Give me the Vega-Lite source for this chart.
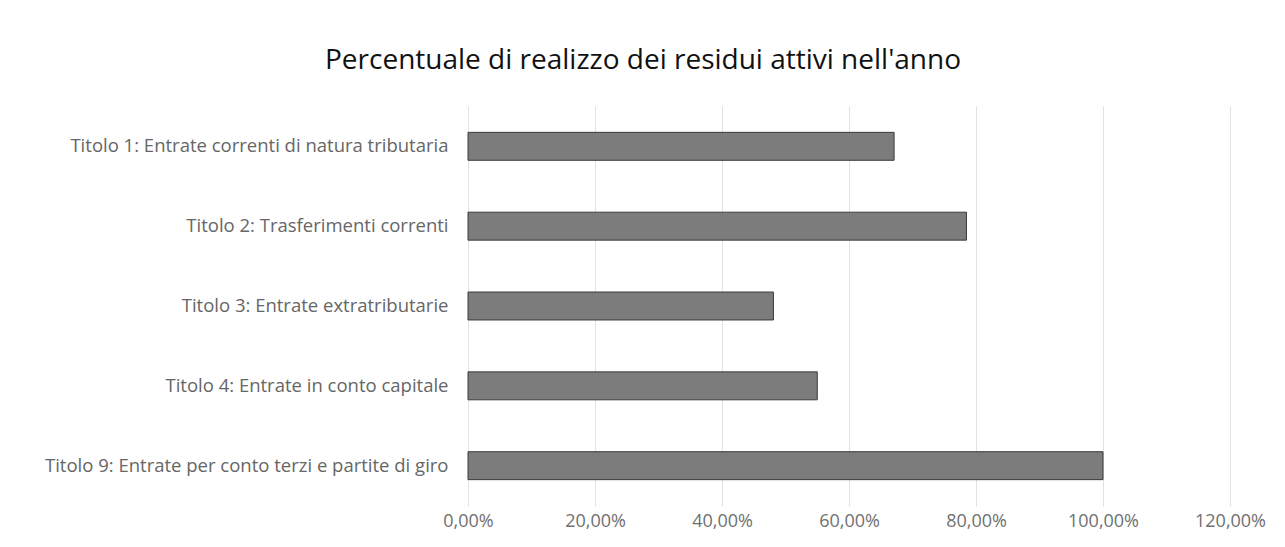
{
  "$schema": "https://vega.github.io/schema/vega-lite/v6.json",
  "width": 762,
  "height": 400,
  "autosize": {"type": "none"},
  "padding": {"left": 468, "top": 106, "right": 55, "bottom": 41},
  "background": "white",
  "config": {
    "locale": {"number": {"decimal": ",", "thousands": ".", "grouping": [3], "currency": ["€", ""]}},
    "view": {"stroke": null},
    "font": "Open Sans"
  },
  "title": {
    "text": "Percentuale di realizzo dei residui attivi nell'anno",
    "font": "Open Sans",
    "fontSize": 28,
    "fontWeight": "normal",
    "color": "#111111",
    "anchor": "middle",
    "dx": -206,
    "offset": 31
  },
  "data": {
    "values": [
      {"titolo": "Titolo 1: Entrate correnti di natura tributaria", "percentuale": 0.671},
      {"titolo": "Titolo 2: Trasferimenti correnti", "percentuale": 0.785},
      {"titolo": "Titolo 3: Entrate extratributarie", "percentuale": 0.481},
      {"titolo": "Titolo 4: Entrate in conto capitale", "percentuale": 0.55},
      {"titolo": "Titolo 9: Entrate per conto terzi e partite di giro", "percentuale": 1.0}
    ]
  },
  "mark": {"type": "bar", "color": "#7c7c7c", "stroke": "#3a3a3a", "strokeWidth": 1},
  "encoding": {
    "y": {
      "field": "titolo",
      "type": "nominal",
      "sort": null,
      "title": null,
      "scale": {"paddingInner": 0.65, "paddingOuter": 0.33},
      "axis": {"domain": false, "ticks": false, "labelFontSize": 18.5, "labelColor": "#666666", "labelPadding": 20, "labelLimit": 480, "labelFont": "Open Sans"}
    },
    "x": {
      "field": "percentuale",
      "type": "quantitative",
      "title": null,
      "scale": {"domain": [0, 1.2], "nice": false},
      "axis": {"values": [0, 0.2, 0.4, 0.6, 0.8, 1.0, 1.2], "format": ".2%", "domain": false, "ticks": false, "grid": true, "gridColor": "#e2e2e2", "labelFlush": false, "labelFontSize": 18, "labelColor": "#707070", "labelPadding": 6, "labelFont": "Open Sans"}
    }
  }
}
